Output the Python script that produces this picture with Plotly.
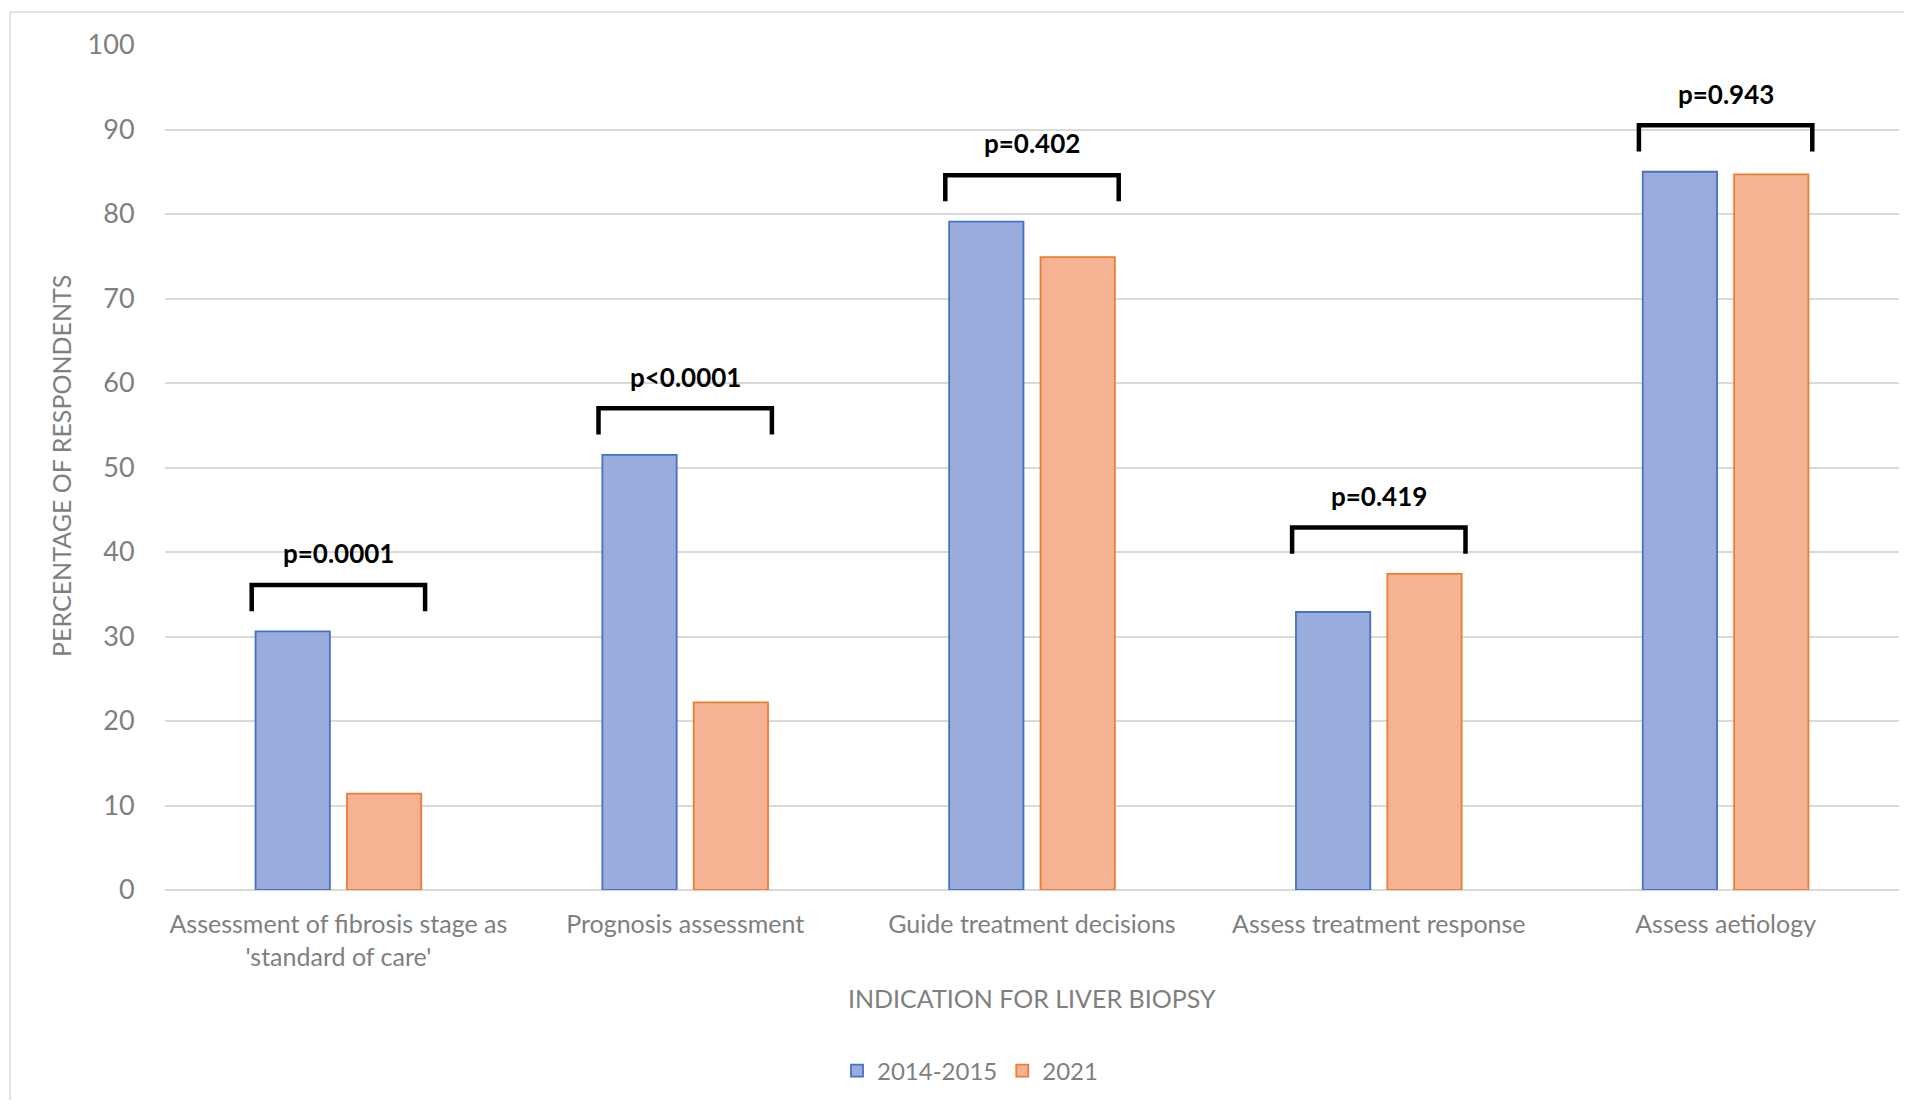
import plotly.graph_objects as go

categories = [
    "Assessment of fibrosis stage as<br>'standard of care'",
    "Prognosis assessment",
    "Guide treatment decisions",
    "Assess treatment response",
    "Assess aetiology",
]
series_names = ["2014-2015", "2021"]
values_2014 = [30.6, 51.5, 79.1, 32.9, 85.0]
values_2021 = [11.4, 22.2, 74.9, 37.4, 84.7]
p_values = ["p=0.0001", "p<0.0001", "p=0.402", "p=0.419", "p=0.943"]
y_ticks = [0, 10, 20, 30, 40, 50, 60, 70, 80, 90, 100]

# page body has an 8px margin; figure sized so it fits in the window
OFF = 8
W, H = 1912 - 2 * OFF, 1108 - 2 * OFF
# plot area in screen coordinates
SL, SR, ST, SB = 165, 1899, 45, 890
L, T = SL - OFF, ST - OFF
R = W - (SR - OFF)
B = H - (SB - OFF)
pw = SR - SL
ph = SB - ST


def px(sx):
    return (sx - SL) / pw


def py(sy):
    return (SB - sy) / ph


FONT = "Lato"
GRAY = "#7f7f7f"

xs = list(range(len(categories)))

fig = go.Figure()
fig.add_trace(go.Bar(
    x=xs, y=values_2014, name=series_names[0],
    marker=dict(color="#99acdc", line=dict(color="#4472c4", width=1.8)),
))
fig.add_trace(go.Bar(
    x=xs, y=values_2021, name=series_names[1],
    marker=dict(color="#f6b393", line=dict(color="#ed7d31", width=1.8)),
))

shapes = []
annotations = []
half = 0.25
for i in xs:
    top = max(values_2014[i], values_2021[i]) + 5.5
    leg = top - 3.1
    shapes.append(dict(
        type="path", xref="x", yref="y",
        path=f"M {i-half},{leg} L {i-half},{top} L {i+half},{top} L {i+half},{leg}",
        line=dict(color="black", width=4.5),
    ))
    annotations.append(dict(
        x=i, y=top + 3.75, xref="x", yref="y", text=f"<b>{p_values[i]}</b>",
        showarrow=False, yanchor="middle", xanchor="center",
        font=dict(family=FONT, size=26, color="black"),
    ))

# chart border (left and top)
bx = px(10)
by = py(12)
shapes.append(dict(type="line", xref="paper", yref="paper", x0=bx, x1=bx, y0=by, y1=py(1115),
                   line=dict(color="#d9d9d9", width=1.5)))
shapes.append(dict(type="line", xref="paper", yref="paper", x0=bx, x1=px(1915), y0=by, y1=by,
                   line=dict(color="#d9d9d9", width=1.5)))

annotations.append(dict(
    text="INDICATION FOR LIVER BIOPSY", xref="paper", yref="paper",
    x=px(1032), y=py(998), showarrow=False,
    xanchor="center", yanchor="middle", font=dict(family=FONT, size=25, color=GRAY),
))
annotations.append(dict(
    text="PERCENTAGE OF RESPONDENTS", xref="paper", yref="paper",
    x=px(61), y=py(466), showarrow=False, textangle=-90,
    xanchor="center", yanchor="middle", font=dict(family=FONT, size=25, color=GRAY),
))

fig.update_layout(
    width=W, height=H,
    margin=dict(l=L, r=R, t=T, b=B, autoexpand=False),
    paper_bgcolor="white", plot_bgcolor="white",
    barmode="group", bargap=0.473, bargroupgap=0.187,
    font=dict(family=FONT, color=GRAY),
    showlegend=True,
    legend=dict(
        orientation="h", x=px(970), xanchor="center",
        y=py(1071), yanchor="middle",
        font=dict(family=FONT, size=24, color=GRAY),
        itemwidth=30, traceorder="normal",
    ),
    shapes=shapes,
    annotations=annotations,
    xaxis=dict(
        tickmode="array", tickvals=xs, ticktext=categories,
        range=[-0.5, len(categories) - 0.5],
        showgrid=False, zeroline=False, showline=False,
        ticks="outside", ticklen=12, tickcolor="rgba(0,0,0,0)",
        tickfont=dict(family=FONT, size=25, color=GRAY),
    ),
    yaxis=dict(
        range=[0, 100], tickvals=y_ticks,
        showgrid=True, gridcolor="#d9d9d9", gridwidth=1.5,
        zeroline=True, zerolinecolor="#d9d9d9", zerolinewidth=2,
        showline=False,
        ticks="outside", ticklen=24, tickcolor="rgba(0,0,0,0)",
        tickfont=dict(family=FONT, size=27, color=GRAY),
    ),
)

fig.write_html("out.html")
